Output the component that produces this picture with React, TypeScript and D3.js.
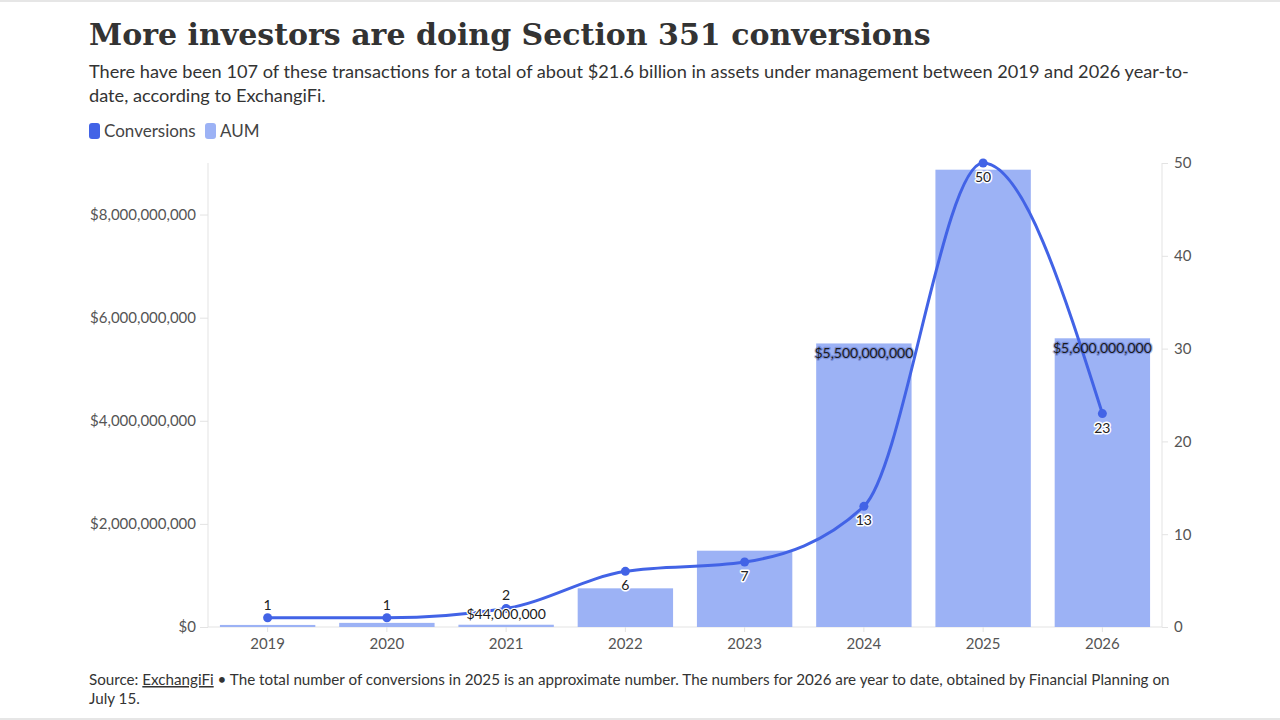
import React, { useEffect, useRef } from "react";
import * as d3 from "d3";

// Section 351 conversions per year and assets under management (USD)
const years = ["2019", "2020", "2021", "2022", "2023", "2024", "2025", "2026"];
const conversions = [1, 1, 2, 6, 7, 13, 50, 23];
const aum = [40000000, 80000000, 44000000, 750000000, 1480000000, 5500000000, 8870000000, 5600000000];
// Which AUM values carry a printed label
const aumLabelled = [false, false, true, false, false, true, false, true];
// Conversions labels placed above the point (otherwise below)
const convAbove = [true, true, true, false, false, false, false, false];

const aumTicks = [0, 2000000000, 4000000000, 6000000000, 8000000000];
const convTicks = [0, 10, 20, 30, 40, 50];

const W = 1280;
const H = 720;
const LINE = "#4263e6";
const BAR = "#9cb2f5";
const FONT = "Lato, 'Noto Sans', sans-serif";

const fmtMoney = (v: number) => "$" + d3.format(",")(v);

export default function App() {
  const ref = useRef<SVGSVGElement>(null);

  useEffect(() => {
    const svg = d3.select(ref.current);
    svg.selectAll("*").remove();

    const left = 208;
    const right = 1162;
    const top = 163;
    const bottom = 627;

    const x = d3.scaleBand<string>().domain(years).range([left, right]).paddingInner(0.2).paddingOuter(0.1);
    const yL = d3.scaleLinear().domain([0, 9000000000]).range([bottom, top]);
    const yR = d3.scaleLinear().domain([0, 50]).range([bottom, top]);

    // frame edges
    svg.append("rect").attr("x", 0).attr("y", 0).attr("width", W).attr("height", 2).attr("fill", "#e6e6e6");
    svg.append("rect").attr("x", 0).attr("y", H - 2).attr("width", W).attr("height", 2).attr("fill", "#e6e6e6");

    // title + subtitle
    svg.append("text").attr("x", 89).attr("y", 45)
      .attr("font-family", "'DejaVu Serif', serif").attr("font-weight", 700)
      .attr("font-size", 30).attr("fill", "#333")
      .text("More investors are doing Section 351 conversions");

    const sub = svg.append("text").attr("font-family", FONT).attr("font-size", 18.2).attr("fill", "#333");
    sub.append("tspan").attr("x", 89).attr("y", 78)
      .text("There have been 107 of these transactions for a total of about $21.6 billion in assets under management between 2019 and 2026 year-to-");
    sub.append("tspan").attr("x", 89).attr("y", 102).text("date, according to ExchangiFi.");

    // legend
    const legend = [
      { label: "Conversions", color: LINE, x: 89 },
      { label: "AUM", color: BAR, x: 205 },
    ];
    legend.forEach((l) => {
      svg.append("rect").attr("x", l.x).attr("y", 123).attr("width", 11).attr("height", 16).attr("rx", 3).attr("fill", l.color);
      svg.append("text").attr("x", l.x + 15).attr("y", 137).attr("font-family", FONT).attr("font-size", 17).attr("fill", "#444").text(l.label);
    });

    // axes
    const axisColor = "#e3e3e3";
    const gL = svg.append("g").attr("transform", `translate(${left},0)`)
      .call(d3.axisLeft(yL).tickValues(aumTicks).tickFormat((d) => fmtMoney(+d)).tickSize(8).tickPadding(4));
    const gR = svg.append("g").attr("transform", `translate(${right},0)`)
      .call(d3.axisRight(yR).tickValues(convTicks).tickSize(6).tickPadding(6));
    const gX = svg.append("g").attr("transform", `translate(0,${bottom})`)
      .call(d3.axisBottom(x).tickSize(5).tickPadding(6));
    [gL, gR, gX].forEach((g) => {
      g.selectAll(".domain").attr("stroke", axisColor);
      g.selectAll(".tick line").attr("stroke", axisColor);
      g.selectAll(".tick text").attr("font-family", FONT).attr("font-size", 15).attr("fill", "#555");
    });
    gL.select(".domain").attr("d", `M0,${top}V${bottom}`);
    gR.select(".domain").attr("d", `M0,${top}V${bottom}`);
    gX.select(".domain").attr("d", `M${left},0H${right}`);

    // bars
    svg.append("g").selectAll("rect").data(years).join("rect")
      .attr("x", (d) => x(d)!)
      .attr("width", x.bandwidth())
      .attr("y", (d, i) => yL(aum[i]))
      .attr("height", (d, i) => bottom - yL(aum[i]))
      .attr("fill", BAR);

    // conversions line
    const pts = years.map((y, i) => [x(y)! + x.bandwidth() / 2, yR(conversions[i])] as [number, number]);
    svg.append("path")
      .attr("d", d3.line().curve(d3.curveMonotoneX)(pts)!)
      .attr("fill", "none").attr("stroke", LINE).attr("stroke-width", 3);
    svg.append("g").selectAll("circle").data(pts).join("circle")
      .attr("cx", (d) => d[0]).attr("cy", (d) => d[1]).attr("r", 4.5).attr("fill", LINE);

    // conversions labels
    svg.append("g").selectAll("text").data(years).join("text")
      .attr("x", (d, i) => pts[i][0])
      .attr("y", (d, i) => (convAbove[i] ? pts[i][1] - 8 : pts[i][1] + 19))
      .attr("text-anchor", "middle")
      .attr("font-family", FONT).attr("font-size", 14).attr("fill", "#222")
      .attr("stroke", "#fff").attr("stroke-width", 3).attr("paint-order", "stroke")
      .attr("stroke-linejoin", "round")
      .text((d, i) => String(conversions[i]));

    // AUM labels
    svg.append("g").selectAll("text").data(years.filter((d, i) => aumLabelled[i])).join("text")
      .attr("x", (d) => x(d)! + x.bandwidth() / 2)
      .attr("y", (d) => {
        const i = years.indexOf(d);
        const yt = yL(aum[i]);
        return bottom - yt < 30 ? yt - 6 : yt + 15;
      })
      .attr("text-anchor", "middle")
      .attr("font-family", FONT).attr("font-size", 14).attr("fill", "#1a1a1a")
      .attr("stroke", (d) => (aum[years.indexOf(d)] < 1e9 ? "#fff" : "rgba(60,80,170,0.35)"))
      .attr("stroke-width", 2.5).attr("paint-order", "stroke").attr("stroke-linejoin", "round")
      .text((d) => fmtMoney(aum[years.indexOf(d)]));

    // footer
    const foot = svg.append("text").attr("font-family", FONT).attr("font-size", 15.2).attr("fill", "#333");
    const l1 = foot.append("tspan").attr("x", 89).attr("y", 685);
    l1.append("tspan").text("Source: ");
    l1.append("tspan").attr("text-decoration", "underline").text("ExchangiFi");
    l1.append("tspan").text(" \u2022 The total number of conversions in 2025 is an approximate number. The numbers for 2026 are year to date, obtained by Financial Planning on");
    foot.append("tspan").attr("x", 89).attr("y", 704).text("July 15.");
  }, []);

  return (
    <div style={{ position: "absolute", left: 0, top: 0 }}>
      <svg ref={ref} width={W} height={H} style={{ display: "block", background: "#fff" }} />
    </div>
  );
}
